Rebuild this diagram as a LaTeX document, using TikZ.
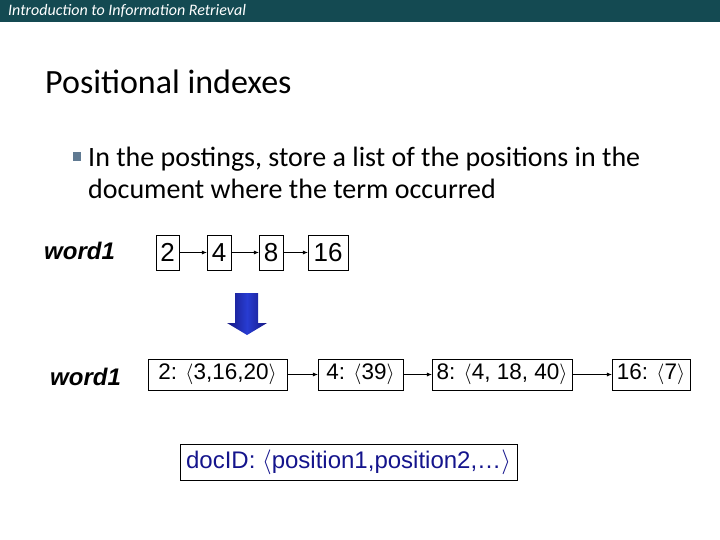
\documentclass[tikz,border=0pt]{standalone}
\usepackage{fontspec}
\setmainfont{Carlito}
\newfontfamily\arialfont{Liberation Sans}
\usetikzlibrary{arrows.meta}
\definecolor{headerteal}{RGB}{20,74,82}
\definecolor{bulletgray}{RGB}{96,122,146}
\definecolor{docblue}{RGB}{20,20,140}
\definecolor{arrowdark}{RGB}{22,24,130}
\definecolor{arrowlight}{RGB}{40,60,210}
\tikzset{
  postbox/.style={draw,thin,inner sep=0pt,font=\arialfont\fontsize{26}{28}\selectfont},
  listbox/.style={draw,thin,inner sep=0pt,minimum height=31pt,font=\arialfont\fontsize{22.5}{25}\selectfont},
  termlabel/.style={font=\arialfont\bfseries\itshape\fontsize{24}{26}\selectfont},
  link/.style={-{Latex[length=5pt,width=4pt]},thin}
}
\begin{document}
\begin{tikzpicture}[x=1pt,y=-1pt]
\useasboundingbox (0,0) rectangle (720,540);
  % Draw header
 \fill[headerteal] (0,0) rectangle (720,22);
 \node (header) [anchor=west,inner sep=0pt,text=white,font=\itshape\fontsize{16}{18}\selectfont] at (8,11)
        {Introduction to Information Retrieval};
 \node (title) [anchor=base west,inner sep=0pt,font=\fontsize{34}{38}\selectfont] at (45,94)
        {Positional indexes};
  % Draw bullet
 \fill[bulletgray] (73,152) rectangle (81,161);
 \node (bullet) [anchor=base west,inner sep=0pt,font=\fontsize{28}{32}\selectfont] at (88,167)
        {In the postings, store a list of the positions in the};
 \node (bullet2) [anchor=base west,inner sep=0pt,font=\fontsize{28}{32}\selectfont] at (88,199)
        {document where the term occurred};

  % Draw postings list
 \node (term) [termlabel,anchor=base west,inner sep=0pt] at (44,259) {word1};
 \node (d2)  [postbox,minimum width=23pt,minimum height=35pt] at (167.5,252.5) {2};
 \node (d4)  [postbox,minimum width=24pt,minimum height=35pt] at (219,252.5)   {4};
 \node (d8)  [postbox,minimum width=24pt,minimum height=35pt] at (271,252.5)   {8};
 \node (d16) [postbox,minimum width=40pt,minimum height=35pt] at (328,252.5)   {16};
 \draw[link] (d2) -- (d4);
 \draw[link] (d4) -- (d8);
 \draw[link] (d8) -- (d16);

  % Draw big arrow
 \shade[left color=arrowdark,right color=arrowdark,middle color=arrowlight]
   (235,293) -- (258,293) -- (258,323) -- (267,323) -- (247,335)
   -- (227,323) -- (235,323) -- cycle;

  % Draw positional list
 \node (term2) [termlabel,anchor=base west,inner sep=0pt] at (50,385) {word1};
 \node (p2)  [listbox,minimum width=139pt] at (217.5,374.5) {2: $\langle$3,16,20$\rangle$};
 \node (p4)  [listbox,minimum width=85pt]  at (360.5,374.5) {4: $\langle$39$\rangle$};
 \node (p8)  [listbox,minimum width=140pt] at (502,374.5)   {8: $\langle$4, 18, 40$\rangle$};
 \node (p16) [listbox,minimum width=78pt]  at (651,374.5)   {16: $\langle$7$\rangle$};
 \draw[link] (p2) -- (p4);
 \draw[link] (p4) -- (p8);
 \draw[link] (p8) -- (p16);

  % Draw legend
 \node (legend) [listbox,minimum width=337pt,minimum height=36pt,text=docblue,
        font=\arialfont\fontsize{24}{26}\selectfont] at (348.5,462)
        {docID: $\langle$position1,position2,\dots$\rangle$};
\end{tikzpicture}
\end{document}
